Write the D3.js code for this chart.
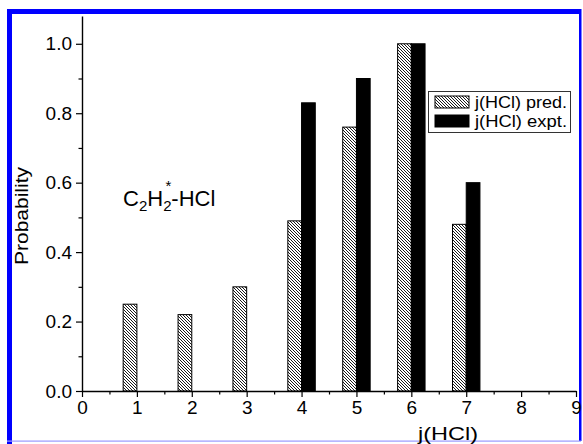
<!DOCTYPE html>
<html>
<head>
<meta charset="utf-8">
<script src="https://cdn.jsdelivr.net/npm/d3@7"></script>
<style>
  html, body { margin: 0; padding: 0; background: #fff; }
  svg { display: block; }
  text { font-family: "Liberation Sans", Arial, sans-serif; fill: #000; }
</style>
</head>
<body>
<script>
// ---- data ----
const categories = [1, 2, 3, 4, 5, 6, 7];
const predValues = [0.25, 0.22, 0.30, 0.49, 0.76, 1.00, 0.48];
const exptValues = [null, null, null, 0.83, 0.90, 1.00, 0.60];
const xTickValues = [0, 1, 2, 3, 4, 5, 6, 7, 8, 9];
const xMinorTicks = [0.5, 1.5, 2.5, 3.5, 4.5, 5.5, 6.5, 7.5, 8.5];
const yTickValues = [0, 0.2, 0.4, 0.6, 0.8, 1.0];
const yMinorTicks = [0.1, 0.3, 0.5, 0.7, 0.9];
const seriesNames = ["j(HCl) pred.", "j(HCl) expt."];
const xTitle = "j(HCl)";
const yTitle = "Probability";

const W = 583, H = 444;
const svg = d3.select("body").append("svg").attr("width", W).attr("height", H);

const defs = svg.append("defs");
const pat = defs.append("pattern").attr("id", "hatch")
  .attr("patternUnits", "userSpaceOnUse").attr("width", 3).attr("height", 3);
pat.append("rect").attr("width", 3).attr("height", 3).attr("fill", "#fff");
pat.append("path").attr("d", "M0,0 L3,3 M-1,2 L1,4 M2,-1 L4,1")
  .attr("stroke", "#000").attr("stroke-width", 0.9);

const x = d3.scaleLinear().domain([0, 9]).range([82, 576]);
const y = d3.scaleLinear().domain([0, 1.08]).range([391, 16]);
const barW = 0.25;

// blue frame
svg.append("rect").attr("x", 7).attr("y", 9).attr("width", 574).attr("height", 5).attr("fill", "#0000ff");
svg.append("rect").attr("x", 7).attr("y", 9).attr("width", 5).attr("height", 435).attr("fill", "#0000ff");
svg.append("rect").attr("x", 579).attr("y", 9).attr("width", 2.5).attr("height", 432).attr("fill", "#0000ff");
svg.append("rect").attr("x", 7).attr("y", 440.5).attr("width", 574).attr("height", 1.2).attr("fill", "#9999ff");

// bars
const gBars = svg.append("g");
categories.forEach((c, i) => {
  const p = predValues[i];
  if (p != null) {
    gBars.append("rect")
      .attr("x", x(c - barW)).attr("y", y(p))
      .attr("width", x(c) - x(c - barW)).attr("height", y(0) - y(p))
      .attr("fill", "url(#hatch)").attr("stroke", "#000").attr("stroke-width", 1);
  }
  const e = exptValues[i];
  if (e != null) {
    gBars.append("rect")
      .attr("x", x(c)).attr("y", y(e))
      .attr("width", x(c + barW) - x(c)).attr("height", y(0) - y(e))
      .attr("fill", "#000").attr("stroke", "#000").attr("stroke-width", 1);
  }
});

// axes
const xAxis = d3.axisBottom(x).tickValues(xTickValues).tickFormat(d3.format("d"))
  .tickSize(6).tickSizeOuter(0).tickPadding(4);
const gx = svg.append("g").attr("transform", `translate(0,${y(0)})`).call(xAxis);
gx.selectAll("text").attr("font-size", 19).attr("font-family", "Liberation Sans, Arial, sans-serif");
gx.select(".domain").attr("stroke-width", 1.4);
gx.selectAll(".tick line").attr("stroke-width", 1.2);
const gxm = svg.append("g").attr("transform", `translate(0,${y(0)})`)
  .call(d3.axisBottom(x).tickValues(xMinorTicks).tickFormat("").tickSize(3.5).tickSizeOuter(0));
gxm.select(".domain").remove();
gxm.selectAll(".tick line").attr("stroke-width", 1.2);

const yAxis = d3.axisLeft(y).tickValues(yTickValues).tickFormat(d3.format(".1f"))
  .tickSize(6).tickSizeOuter(0).tickPadding(4);
const gy = svg.append("g").attr("transform", `translate(${x(0)},0)`).call(yAxis);
gy.selectAll("text").attr("font-size", 19).attr("font-family", "Liberation Sans, Arial, sans-serif");
gy.select(".domain").attr("stroke-width", 1.4);
gy.selectAll(".tick line").attr("stroke-width", 1.2);
const gym = svg.append("g").attr("transform", `translate(${x(0)},0)`)
  .call(d3.axisLeft(y).tickValues(yMinorTicks).tickFormat("").tickSize(3.5).tickSizeOuter(0));
gym.select(".domain").remove();
gym.selectAll(".tick line").attr("stroke-width", 1.2);

// axis titles
svg.append("text").attr("x", 448).attr("y", 440).attr("text-anchor", "middle")
  .attr("font-size", 19).attr("textLength", 60).attr("lengthAdjust", "spacingAndGlyphs")
  .text(xTitle);
svg.append("text").attr("transform", "translate(28,216) rotate(-90)")
  .attr("text-anchor", "middle").attr("font-size", 19)
  .attr("textLength", 98).attr("lengthAdjust", "spacingAndGlyphs").text(yTitle);

// annotation
const ann = svg.append("text").attr("x", 123).attr("y", 206).attr("font-size", 22);
ann.append("tspan").text("C");
ann.append("tspan").attr("font-size", 15).attr("dy", 5).text("2");
ann.append("tspan").attr("dy", -5).text("H");
ann.append("tspan").attr("font-size", 15).attr("dy", 5).text("2");
ann.append("tspan").attr("font-size", 15).attr("dy", -20).attr("dx", -6).text("*");
ann.append("tspan").attr("dy", 15).text("-HCl");

// legend
const lg = svg.append("g");
lg.append("rect").attr("x", 428.5).attr("y", 91.5).attr("width", 142).attr("height", 41)
  .attr("fill", "#fff").attr("stroke", "#333").attr("stroke-width", 1);
const swFills = ["url(#hatch)", "#000"];
seriesNames.forEach((n, i) => {
  const yy = 96 + i * 19;
  lg.append("rect").attr("x", 435).attr("y", yy).attr("width", 34).attr("height", 12)
    .attr("fill", swFills[i]).attr("stroke", "#000").attr("stroke-width", 1);
  lg.append("text").attr("x", 475).attr("y", yy + 12).attr("font-size", 16)
    .attr("textLength", 92).attr("lengthAdjust", "spacingAndGlyphs").text(n);
});
</script>
</body>
</html>
